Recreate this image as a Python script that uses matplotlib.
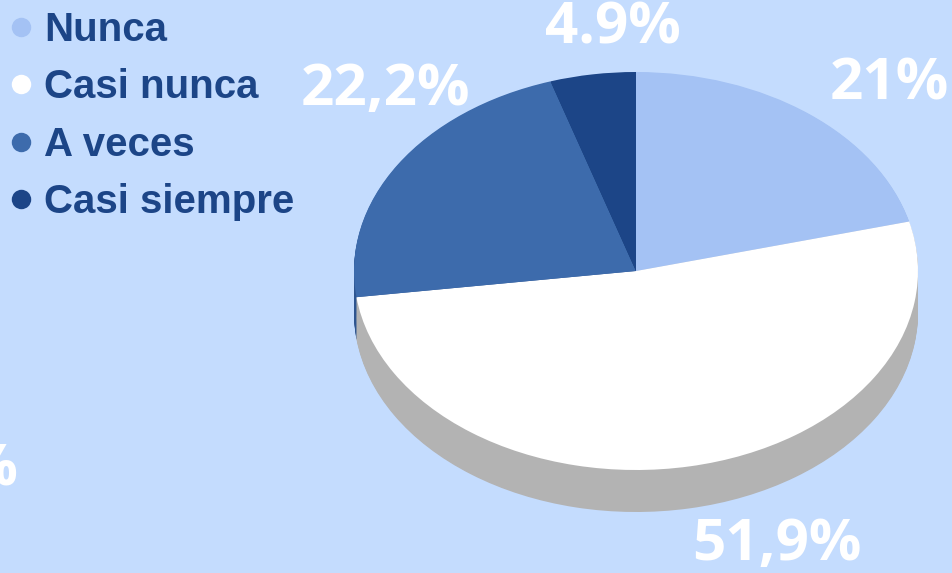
import numpy as np
import matplotlib
matplotlib.use("Agg")
import matplotlib.pyplot as plt
from matplotlib.lines import Line2D

# data
categories = ["Nunca", "Casi nunca", "A veces", "Casi siempre"]
values = [21.0, 51.9, 22.2, 4.9]
value_labels = ["21%", "51,9%", "22,2%", "4.9%"]
colors = ["#A4C2F4", "#FFFFFF", "#3D6BAC", "#1C4587"]
side_colors = ["#8DA8D6", "#B3B3B3", "#2E5590", "#163A72"]

bg = "#C4DCFE"
W, H = 952, 573
cx, cy, rx, ry = 636, 271, 282, 199   # ellipse of the top face, pixels
depth = 42

fig = plt.figure(figsize=(W / 100, H / 100), dpi=100, facecolor=bg)
ax = fig.add_axes([0, 0, 1, 1])
ax.set_facecolor(bg)

def px(x, y):
    # pixel (from top-left) -> data coords where the pie radius is 1
    return (x - cx) / rx, (cy - y) / ry

# side of the pie: stack of shifted pies
d = depth / ry
for off in np.linspace(d, 0.004, 40):
    ax.pie(values, colors=side_colors, startangle=90, counterclock=False,
           center=(0, -off), radius=1, wedgeprops=dict(linewidth=0))
# top face
ax.pie(values, colors=colors, startangle=90, counterclock=False,
       center=(0, 0), radius=1, wedgeprops=dict(linewidth=0))

ax.set_aspect("auto")
x0, y0 = px(0, H)
x1, y1 = px(W, 0)
ax.set_xlim(x0, x1)
ax.set_ylim(y0, y1)
ax.axis("off")

# value labels (manually placed like the original)
label_pos = [(889, 85), (777, 545), (385, 90), (613, 29)]
lab_font = dict(color="white", fontsize=42, fontweight="bold",
                family=["Open Sans", "DejaVu Sans"], ha="center", va="center")
for (lx, ly), t in zip(label_pos, value_labels):
    ax.text(*px(lx, ly), t, **lab_font)
ax.text(*px(19, 471), "0%", color="white", fontsize=42, fontweight="bold",
        family=["Open Sans", "DejaVu Sans"], ha="right", va="center")

# legend
handles = [Line2D([], [], marker="o", ls="", markersize=14, color=c,
                  markeredgewidth=0) for c in colors]
leg = ax.legend(handles, categories, loc="upper left",
                bbox_to_anchor=(0.0, 1.0 - 1 / H), frameon=False,
                prop=dict(family="Liberation Sans", weight="bold", size=29),
                labelcolor="#1C4587", handlelength=0.55, handletextpad=0.3,
                labelspacing=0.48, borderpad=0.0, borderaxespad=0.25)

fig.savefig("out.png", dpi=100, facecolor=bg)
